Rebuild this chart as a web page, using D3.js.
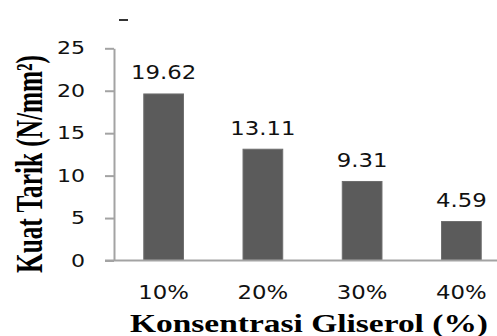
<!DOCTYPE html>
<html>
<head>
<meta charset="utf-8">
<script src="https://cdn.jsdelivr.net/npm/d3@7"></script>
<style>
  html, body { margin: 0; padding: 0; background: #fff; }
  svg { display: block; }
</style>
</head>
<body>
<svg id="chart" width="497" height="336"></svg>
<script>
// Tensile strength of films at each glycerol concentration
const categories = ["10%", "20%", "30%", "40%"];
const kuatTarik = [19.62, 13.11, 9.31, 4.59];
const yTicks = [0, 5, 10, 15, 20, 25];

const svg = d3.select("#chart");
const W = 497, H = 336;
const left = 114, baselineY = 260.5, topY = 48.3;

const x = d3.scaleBand()
  .domain(categories)
  .range([left, 511])
  .paddingInner(0.6)
  .paddingOuter(0.3);

const y = d3.scaleLinear()
  .domain([0, 25])
  .range([baselineY, topY]);

const numFont = "'DejaVu Sans', Verdana, sans-serif";
const titleFont = "'Liberation Serif', 'Times New Roman', serif";
const axisColor = "#a3a3a3";

// Small dash above the plot
svg.append("line")
  .attr("x1", 119).attr("x2", 128)
  .attr("y1", 20).attr("y2", 20)
  .attr("stroke", "#333").attr("stroke-width", 2);

// Bars
svg.append("g")
  .selectAll("rect")
  .data(kuatTarik)
  .join("rect")
  .attr("x", (d, i) => x(categories[i]))
  .attr("y", d => y(d))
  .attr("width", x.bandwidth())
  .attr("height", d => y(0) - y(d))
  .attr("fill", "#5b5b5b")
  .attr("stroke", "#6e6e6e")
  .attr("stroke-width", 1);

// Y axis
const yAxis = svg.append("g")
  .attr("transform", `translate(${left},0)`)
  .call(d3.axisLeft(y).tickValues(yTicks).tickSize(9).tickSizeOuter(0));
yAxis.select(".domain").attr("stroke", axisColor).attr("stroke-width", 2);
yAxis.selectAll(".tick line").attr("stroke", axisColor).attr("stroke-width", 2);
yAxis.selectAll(".tick text")
  .attr("x", null)
  .attr("dy", null)
  .attr("dominant-baseline", "central")
  .attr("transform", "translate(-29,0) scale(1.3,1)")
  .attr("font-family", numFont)
  .attr("font-size", 17)
  .attr("fill", "#111");

// X axis baseline
const xAxis = svg.append("g")
  .attr("transform", `translate(0,${baselineY})`)
  .call(d3.axisBottom(x).tickSize(0).tickSizeOuter(0));
xAxis.select(".domain")
  .attr("d", `M${left - 9},0H${W}`)
  .attr("stroke", axisColor).attr("stroke-width", 2);
xAxis.selectAll(".tick text")
  .attr("y", null)
  .attr("dy", null)
  .attr("transform", "translate(0,38.5) scale(1.2,1)")
  .attr("font-family", numFont)
  .attr("font-size", 19)
  .attr("fill", "#111");

// Value labels above bars
svg.append("g")
  .selectAll("text")
  .data(kuatTarik)
  .join("text")
  .attr("transform", (d, i) =>
    `translate(${x(categories[i]) + x.bandwidth() / 2},${y(d) - 14.5}) scale(1.2,1)`)
  .attr("text-anchor", "middle")
  .attr("font-family", numFont)
  .attr("font-size", 19)
  .attr("fill", "#111")
  .text(d => d.toFixed(2));

// Axis titles
svg.append("text")
  .attr("x", 309)
  .attr("y", 332)
  .attr("text-anchor", "middle")
  .attr("textLength", 358)
  .attr("lengthAdjust", "spacingAndGlyphs")
  .attr("font-family", titleFont)
  .attr("font-weight", "bold")
  .attr("font-size", 25)
  .attr("fill", "#000")
  .text("Konsentrasi Gliserol (%)");

svg.append("text")
  .attr("transform", "translate(42,164) rotate(-90) scale(1,1.5)")
  .attr("text-anchor", "middle")
  .attr("textLength", 218)
  .attr("lengthAdjust", "spacingAndGlyphs")
  .attr("font-family", titleFont)
  .attr("font-weight", "bold")
  .attr("font-size", 25)
  .attr("fill", "#000")
  .text("Kuat Tarik (N/mm²)");
</script>
</body>
</html>
